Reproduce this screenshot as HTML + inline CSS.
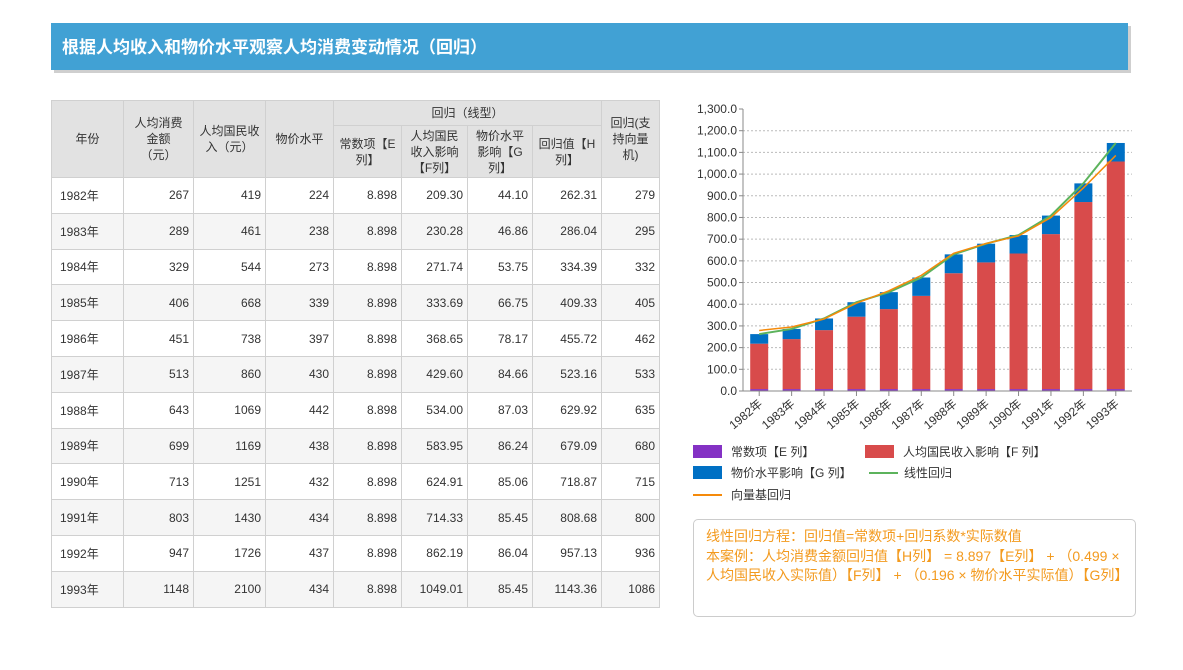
<!DOCTYPE html>
<html><head><meta charset="utf-8">
<style>
body{margin:0;width:1183px;height:670px;background:#fff;font-family:"Liberation Sans","Noto Sans CJK SC",sans-serif;position:relative;overflow:hidden}
#title{position:absolute;left:51px;top:23px;width:1077px;height:47px;background:#41A1D4;box-shadow:3px 3px 0 #cfcfcf;color:#fff;font-weight:bold;font-size:17px;line-height:49px;padding-left:11px;box-sizing:border-box}
table{position:absolute;left:51px;top:100px;border-collapse:collapse;font-size:12px;color:#333;table-layout:fixed}
td,th{border:1px solid #d0d0d0;padding:0 4px}
th{background:#e2e2e2;font-weight:normal;text-align:center;line-height:16px;padding:0 8px}
td{height:34.8px;text-align:right}
td:first-child{text-align:left;padding-left:8px}
tr.alt td{background:#f5f5f5}
#legend{position:absolute;left:693px;top:443px;font-size:12px;color:#333}
.li{position:absolute;white-space:nowrap}
.sw{position:absolute;width:29px;height:13px}
#note{position:absolute;left:693px;top:519px;width:443px;height:98px;border:1px solid #ccc;border-radius:5px;box-sizing:border-box;color:#f39a1e;font-size:14px;padding:7px 12px;line-height:19px}
</style></head><body>
<div id="title">根据人均收入和物价水平观察人均消费变动情况（回归）</div>
<table>
<colgroup><col style="width:72px"><col style="width:70px"><col style="width:72px"><col style="width:68px"><col style="width:68px"><col style="width:66px"><col style="width:65px"><col style="width:69px"><col style="width:58px"></colgroup>
<tr style="height:25px"><th rowspan="2">年份</th><th rowspan="2">人均消费金额（元）</th><th rowspan="2" style="padding:0 4px">人均国民收入（元）</th><th rowspan="2">物价水平</th><th colspan="4">回归（线型）</th><th rowspan="2" style="padding:0 6px">回归(支持向量机)</th></tr>
<tr style="height:52px"><th style="padding:0 4px">常数项【E列】</th><th style="padding:0 4px">人均国民收入影响【F列】</th><th style="padding:0 6px">物价水平影响【G列】</th><th style="padding:0 4px">回归值【H列】</th></tr>
<tbody id="tb"></tbody>
</table>
<svg id="chart" width="1183" height="670" style="position:absolute;left:0;top:0"></svg>
<div id="legend">
<div class="li" style="left:0;top:0"><span class="sw" style="left:0;top:2px;background:#8431C4"></span><span style="position:absolute;left:38px">常数项【E 列】</span></div>
<div class="li" style="left:172px;top:0"><span class="sw" style="left:0;top:2px;background:#D84B4B"></span><span style="position:absolute;left:38px">人均国民收入影响【F 列】</span></div>
<div class="li" style="left:0;top:21px"><span class="sw" style="left:0;top:2px;background:#0070C4"></span><span style="position:absolute;left:38px">物价水平影响【G 列】</span></div>
<div class="li" style="left:176px;top:21px"><span class="sw" style="left:0;top:8px;height:2px;background:#5CB35C"></span><span style="position:absolute;left:35px">线性回归</span></div>
<div class="li" style="left:0;top:43px"><span class="sw" style="left:0;top:8px;height:2px;background:#F58A0A"></span><span style="position:absolute;left:38px">向量基回归</span></div>
</div>
<div id="note">线性回归方程：回归值=常数项+回归系数*实际数值<div style="margin-top:1px">本案例：人均消费金额回归值【H列】 = 8.897【E列】 + （0.499 × 人均国民收入实际值）【F列】 + （0.196 × 物价水平实际值）【G列】</div></div>
<script>
const years=["1982年","1983年","1984年","1985年","1986年","1987年","1988年","1989年","1990年","1991年","1992年","1993年"];
const consumption=[267,289,329,406,451,513,643,699,713,803,947,1148];
const income=[419,461,544,668,738,860,1069,1169,1251,1430,1726,2100];
const price=[224,238,273,339,397,430,442,438,432,434,437,434];
const constE=[8.898,8.898,8.898,8.898,8.898,8.898,8.898,8.898,8.898,8.898,8.898,8.898];
const incomeF=[209.30,230.28,271.74,333.69,368.65,429.60,534.00,583.95,624.91,714.33,862.19,1049.01];
const priceG=[44.10,46.86,53.75,66.75,78.17,84.66,87.03,86.24,85.06,85.45,86.04,85.45];
const regH=[262.31,286.04,334.39,409.33,455.72,523.16,629.92,679.09,718.87,808.68,957.13,1143.36];
const svm=[279,295,332,405,462,533,635,680,715,800,936,1086];
const yTicks=[0,100,200,300,400,500,600,700,800,900,1000,1100,1200,1300];

const tb=document.getElementById('tb');
years.forEach((y,i)=>{
 const tr=document.createElement('tr');
 
 
 if(i%2==1)tr.className='alt';
 [y,consumption[i],income[i],price[i],constE[i].toFixed(3),incomeF[i].toFixed(2),priceG[i].toFixed(2),regH[i].toFixed(2),svm[i]].forEach(v=>{const td=document.createElement('td');td.textContent=v;tr.appendChild(td);});
 tb.appendChild(tr);
});

const svg=document.getElementById('chart');const NS='http://www.w3.org/2000/svg';
const X0=743,X1=1132,Y0=391,Ytop=109,MAX=1300;
const band=(X1-X0)/years.length;
const xc=i=>X0+band*(i+0.5);
const ys=v=>Y0-(v/MAX)*(Y0-Ytop);
function mk(t,a,name){const e=document.createElementNS(NS,t);for(const k in a)e.setAttribute(k,a[k]);
 
 
 svg.appendChild(e);return e;}
yTicks.forEach(t=>{
 if(t>0&&t<MAX)mk('line',{x1:X0,x2:X1,y1:ys(t),y2:ys(t),stroke:'#bbb','stroke-dasharray':'2,2','stroke-width':1},'gridline');
 mk('line',{x1:X0-4,x2:X0,y1:ys(t),y2:ys(t),stroke:'#888'},'y-tick');
 const tx=mk('text',{x:X0-6,y:ys(t)+4,'text-anchor':'end','font-size':12,fill:'#333','font-family':'Liberation Sans'},'y-tick-label');
 tx.textContent=t.toLocaleString('en-US',{minimumFractionDigits:1,maximumFractionDigits:1});
});
mk('line',{x1:X0,x2:X0,y1:Ytop,y2:Y0,stroke:'#888'},'y-axis');
const bw=18;
years.forEach((y,i)=>{
 let base=0;
 [[constE,'#8431C4'],[incomeF,'#D84B4B'],[priceG,'#0070C4']].forEach(([arr,c])=>{
  const v=arr[i];
  mk('rect',{x:xc(i)-bw/2,y:ys(base+v),width:bw,height:ys(base)-ys(base+v),fill:c},'bar-'+y.slice(0,4));
  base+=v;
 });
 mk('line',{x1:xc(i),x2:xc(i),y1:Y0,y2:Y0+5,stroke:'#888'},'x-tick');
 const tx=mk('text',{x:xc(i)+4,y:Y0+14,'text-anchor':'end','font-size':12,fill:'#333',transform:`rotate(-40 ${xc(i)+4} ${Y0+14})`},'x-tick-label');
 tx.textContent=y;
});
mk('line',{x1:X0,x2:X1,y1:Y0,y2:Y0,stroke:'#888'},'x-axis');
mk('polyline',{points:regH.map((v,i)=>xc(i)+','+ys(v)).join(' '),fill:'none',stroke:'#5CB35C','stroke-width':2},'linear-regression-line');
mk('polyline',{points:svm.map((v,i)=>xc(i)+','+ys(v)).join(' '),fill:'none',stroke:'#F58A0A','stroke-width':1.5},'svm-regression-line');
</script>
</body></html>
